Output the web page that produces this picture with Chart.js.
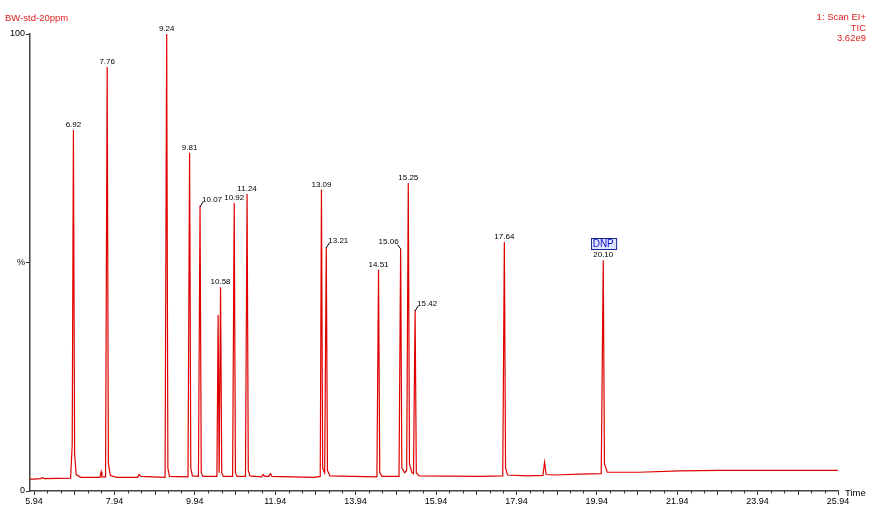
<!DOCTYPE html>
<html>
<head>
<meta charset="utf-8">
<script src="https://cdn.jsdelivr.net/npm/chart.js@4/dist/chart.umd.min.js"></script>
<style>
  html, body { margin: 0; padding: 0; background: #fff; }
  #wrap { width: 888px; height: 511px; position: relative; }
</style>
</head>
<body>
<div id="wrap"><canvas id="tic"></canvas></div>
<script>
// TIC trace (time in min, intensity in %)
const traceTimes = [
  5.84, 5.94, 6.10, 6.15, 6.20, 6.85, 6.89, 6.92, 6.95, 6.99, 7.10,
  7.58, 7.61, 7.63, 7.72, 7.76, 7.79, 7.84, 8.00, 8.52, 8.55,
  8.60, 9.20, 9.24, 9.27, 9.31, 9.77, 9.81, 9.84, 9.88, 10.03,
  10.07, 10.10, 10.14, 10.49, 10.52, 10.545, 10.58, 10.61, 10.65, 10.88,
  10.92, 10.95, 10.99, 11.20, 11.24, 11.27, 11.31, 11.60, 11.64, 11.68,
  11.78, 11.82, 11.86, 12.90, 13.06, 13.09, 13.12, 13.17, 13.21, 13.24,
  13.30, 14.47, 14.51, 14.54, 14.60, 15.02, 15.06, 15.09, 15.16, 15.21,
  15.25, 15.28, 15.34, 15.38, 15.42, 15.45, 15.52, 17.00, 17.60, 17.64,
  17.67, 17.72, 18.20, 18.60, 18.64, 18.68, 18.90, 19.50, 20.05, 20.10,
  20.13, 20.20, 21.00, 22.00, 23.00, 24.00, 25.00, 25.94
];
const traceValues = [
  2.6, 2.6, 2.7, 2.9, 2.7, 2.8, 10, 79, 8, 3.6, 3.0,
  3.0, 4.2, 3.1, 3.1, 92.8, 6, 3.4, 3.0, 3.0, 3.6,
  3.2, 3.0, 100, 5, 3.2, 3.1, 74, 5, 3.3, 3.2,
  62.4, 4, 3.2, 3.2, 38.5, 4, 44.6, 4, 3.2, 3.2,
  63, 4, 3.2, 3.2, 65, 4.5, 3.3, 3.1, 3.6, 3.2,
  3.2, 3.8, 3.2, 3.0, 3.2, 66, 5, 4, 53.4, 4.5,
  3.3, 3.1, 48.4, 4, 3.2, 3.2, 53, 5, 4, 4.5,
  67.4, 6, 4, 3.8, 39.6, 4, 3.3, 3.2, 3.3, 54.5,
  5, 3.5, 3.3, 3.4, 6.3, 3.6, 3.5, 3.7, 3.8, 50.5,
  6, 4.1, 4.1, 4.4, 4.5, 4.5, 4.5, 4.5
];

// labelled peaks
const peakTimes  = [6.92, 7.76, 9.24, 9.81, 10.07, 10.58, 10.92, 11.24, 13.09, 13.21, 14.51, 15.06, 15.25, 15.42, 17.64, 20.10];
const peakHeights = [79, 92.8, 100, 74, 62.4, 44.6, 63, 65, 66, 53.4, 48.4, 53, 67.4, 39.6, 54.5, 50.5];
const peakLabels = ["6.92", "7.76", "9.24", "9.81", "10.07", "10.58", "10.92", "11.24", "13.09", "13.21", "14.51", "15.06", "15.25", "15.42", "17.64", "20.10"];
// label offset: 0 = centred above, -1 = to the left with leader, 1 = to the right with leader
const peakLabelSide = [0, 0, 0, 0, 1, 0, 0, 0, 0, 1, 0, -1, 0, 1, 0, 0];

const xTickValues = [5.94, 7.94, 9.94, 11.94, 13.94, 15.94, 17.94, 19.94, 21.94, 23.94, 25.94];
const yTickValues = [0, 50, 100];
const yTickLabels = ["0", "%", "100"];

const RED = "#e00000";

const points = traceTimes.map((t, i) => ({ x: t, y: traceValues[i] }));

const decor = {
  id: "decor",
  afterDraw(chart) {
    const ctx = chart.ctx;
    const xs = chart.scales.x, ys = chart.scales.y;
    const area = chart.chartArea;
    ctx.save();

    // minor ticks on the time axis
    ctx.strokeStyle = "#333";
    ctx.lineWidth = 1;
    for (let i = 0; i <= 60; i++) {
      if (i % 6 === 0) continue;
      const t = xTickValues[0] + i / 3;
      const px = Math.round(xs.getPixelForValue(t)) + 0.5;
      const len = i % 3 === 0 ? 4 : 2.5;
      ctx.beginPath();
      ctx.moveTo(px, area.bottom);
      ctx.lineTo(px, area.bottom + len);
      ctx.stroke();
    }

    // header texts
    ctx.fillStyle = "#e02020";
    ctx.font = "9.5px 'Liberation Sans', Arial, sans-serif";
    ctx.textBaseline = "alphabetic";
    ctx.textAlign = "left";
    ctx.fillText("BW-std-20ppm", 5, 21);
    ctx.textAlign = "right";
    ctx.fillText("1: Scan EI+", 866, 20);
    ctx.fillText("TIC", 866, 31);
    ctx.fillText("3.62e9", 866, 41);

    ctx.fillStyle = "#000";
    ctx.textAlign = "left";
    ctx.fillText("Time", 845, 496);

    // peak labels
    ctx.font = "8px 'Liberation Sans', Arial, sans-serif";
    ctx.textBaseline = "bottom";
    ctx.strokeStyle = "#000";
    peakTimes.forEach((t, i) => {
      const px = xs.getPixelForValue(t);
      const py = ys.getPixelForValue(peakHeights[i]);
      const side = peakLabelSide[i];
      if (side === 0) {
        ctx.textAlign = "center";
        ctx.fillText(peakLabels[i], px, py - 1);
      } else if (side === 1) {
        ctx.textAlign = "left";
        ctx.fillText(peakLabels[i], px + 2, py - 2);
        ctx.beginPath();
        ctx.moveTo(px, py + 1);
        ctx.lineTo(px + 3, py - 4);
        ctx.stroke();
      } else {
        ctx.textAlign = "right";
        ctx.fillText(peakLabels[i], px - 2, py - 3);
        ctx.beginPath();
        ctx.moveTo(px, py);
        ctx.lineTo(px - 3, py - 4);
        ctx.stroke();
      }
    });

    // DNP tag above the 20.10 peak
    const dx = xs.getPixelForValue(20.10);
    const dy = ys.getPixelForValue(50.5);
    ctx.font = "10px 'Liberation Sans', Arial, sans-serif";
    const w = ctx.measureText("DNP").width + 4;
    const bx = Math.round(dx - w / 2) + 0.5, by = Math.round(dy - 22) + 0.5;
    ctx.fillStyle = "#dde4ff";
    ctx.fillRect(bx, by, w, 11);
    ctx.strokeStyle = "#1a2a90";
    ctx.strokeRect(bx, by, w, 11);
    ctx.fillStyle = "#1010c8";
    ctx.textAlign = "center";
    ctx.textBaseline = "middle";
    ctx.fillText("DNP", dx, by + 6);

    ctx.restore();
  }
};

new Chart(document.getElementById("tic"), {
  type: "line",
  data: {
    datasets: [{
      data: points,
      borderColor: RED,
      borderWidth: 1.2,
      pointRadius: 0,
      tension: 0,
      fill: false
    }]
  },
  options: {
    responsive: true,
    maintainAspectRatio: false,
    animation: false,
    layout: { padding: { top: 34, right: 50, left: 0, bottom: 0 } },
    plugins: { legend: { display: false }, tooltip: { enabled: false } },
    scales: {
      x: {
        type: "linear",
        min: 5.84,
        max: 25.94,
        afterBuildTicks: (s) => { s.ticks = xTickValues.map(v => ({ value: v })); },
        afterFit: (s) => { s.height = 20; },
        grid: { drawOnChartArea: false, tickLength: 4, color: "#333" },
        border: { color: "#444", width: 1.5 },
        ticks: {
          color: "#000",
          padding: 1,
          maxRotation: 0,
          autoSkip: false,
          font: { family: "'Liberation Sans', Arial, sans-serif", size: 9 },
          callback: (v) => Number(v).toFixed(2)
        }
      },
      y: {
        min: 0,
        max: 100,
        afterBuildTicks: (s) => { s.ticks = yTickValues.map(v => ({ value: v })); },
        afterFit: (s) => { s.width = 30; },
        grid: { drawOnChartArea: false, tickLength: 4, color: "#333" },
        border: { color: "#444", width: 1.5 },
        ticks: {
          color: "#000",
          padding: 1,
          autoSkip: false,
          font: { family: "'Liberation Sans', Arial, sans-serif", size: 9 },
          callback: (v, i) => yTickLabels[i]
        }
      }
    }
  },
  plugins: [decor]
});
</script>
</body>
</html>
